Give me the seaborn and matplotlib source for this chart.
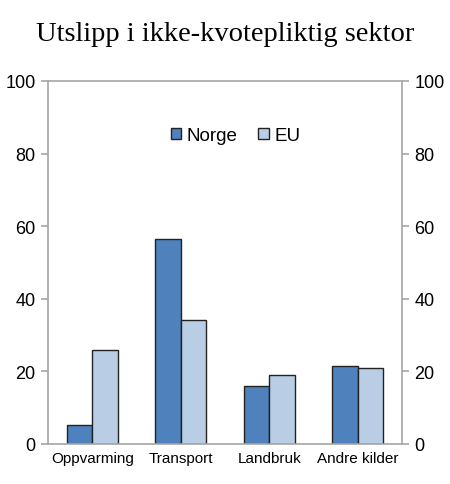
import numpy as np
import matplotlib
matplotlib.use("Agg")
import matplotlib.pyplot as plt
import seaborn as sns
import pandas as pd

categories = ["Oppvarming", "Transport", "Landbruk", "Andre kilder"]
norge = [5.2, 56.4, 15.9, 21.6]
eu = [26.0, 34.1, 19.0, 21.0]
series = ["Norge", "EU"]
colors = ["#4F81BD", "#B9CDE5"]

df = pd.DataFrame({
    "kategori": categories * 2,
    "verdi": norge + eu,
    "serie": [series[0]] * 4 + [series[1]] * 4,
})

sns.set_style("white")
plt.rcParams["font.family"] = ["Liberation Sans", "DejaVu Sans"]
plt.rcParams["text.color"] = "black"
plt.rcParams["xtick.labelcolor"] = "black"
plt.rcParams["ytick.labelcolor"] = "black"

fig = plt.figure(figsize=(4.5, 4.85), dpi=100)
ax = fig.add_axes([0.1067, 0.0825, 0.7866, 0.7485])

sns.barplot(data=df, x="kategori", y="verdi", hue="serie", order=categories,
            hue_order=series, palette=colors, width=0.58, edgecolor="#222222",
            linewidth=1.0, saturation=1, ax=ax)

ax.set_ylim(0, 100)
ax.set_xlim(-0.5, 3.5)
ax.set_yticks(range(0, 101, 20))
ax.set_xlabel("")
ax.set_ylabel("")

grey = "#A6A6A6"
for s in ax.spines.values():
    s.set_color(grey)
    s.set_linewidth(1.2)
    s.set_visible(True)

ax.tick_params(axis="y", which="both", left=True, right=True, labelleft=True,
               labelright=True, length=5, color=grey, width=1.2,
               labelsize=13, pad=4)
ax.set_xticks(np.arange(-0.5, 4, 1), minor=True)
ax.tick_params(axis="x", which="major", length=0, labelsize=11, pad=5)
ax.tick_params(axis="x", which="minor", length=5, color=grey, width=1.2)

ax.legend(loc="upper center", bbox_to_anchor=(0.53, 0.92), ncol=2, frameon=False,
          fontsize=13.5, handlelength=0.55, handleheight=0.55, handletextpad=0.3,
          columnspacing=1.1)

fig.suptitle("Utslipp i ikke-kvotepliktig sektor", x=0.5, y=0.955,
             fontsize=20.5, family=["Liberation Serif", "DejaVu Serif"])

fig.savefig("out.png", dpi=100)
